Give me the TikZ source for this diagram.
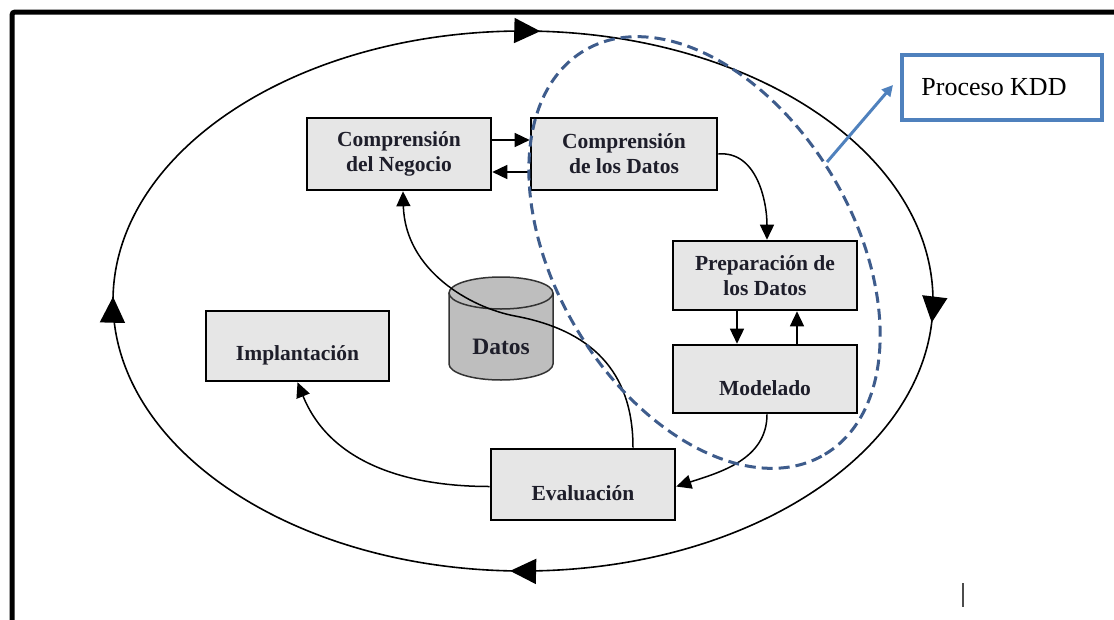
\documentclass[tikz,border=0pt]{standalone}
\usepackage{fontspec}
\setmainfont{Liberation Serif}
\usetikzlibrary{arrows.meta,decorations.markings}

\definecolor{boxfill}{HTML}{E6E6E6}
\definecolor{cylfill}{HTML}{BEBEBE}
\definecolor{ink}{HTML}{1E1E2A}
\definecolor{kddblue}{HTML}{3E5C8C}
\definecolor{callout}{HTML}{4F81BD}

% single-line labels sit a little below the box centre
\newcommand{\lowlabel}[1]{\raisebox{-9pt}[\height][\depth]{#1}}

\begin{document}
\begin{tikzpicture}[x=1pt,y=1pt,
  stage/.style={draw=black, line width=2.6pt, fill=boxfill, text=ink,
    font=\fontsize{21.5}{25}\selectfont\bfseries, align=center, inner sep=0pt},
  link/.style={line width=1.5pt, -{Triangle[length=15pt,width=14pt]}},
  loopline/.style={line width=1.6pt, postaction={decorate}, decoration={markings,
    mark=at position 0.242 with {\arrowreversed{Triangle[length=26pt,width=25pt]}},
    mark=at position 0.498 with {\arrowreversed{Triangle[length=26pt,width=25pt]}},
    mark=at position 0.744 with {\arrowreversed{Triangle[length=26pt,width=25pt]}},
    mark=at position 0.990 with {\arrowreversed{Triangle[length=26pt,width=25pt]}}}},
  kddline/.style={kddblue, line width=3pt, dash pattern=on 11pt off 6pt},
  callout box/.style={draw=callout, line width=4pt, fill=white, text=black,
    font=\fontsize{26}{30}\selectfont, minimum width=200pt, minimum height=65pt, inner sep=0pt}
]
\useasboundingbox (0,0) rectangle (1114,-619);
\fill[white] (0,0) rectangle (1114,-619);

% page frame
\draw[line width=5pt, rounded corners=3pt] (12,-630) -- (12,-12) -- (1125,-12);

% outer cycle
\draw[loopline] (523,-301) ellipse [x radius=410, y radius=270];

% data store
\fill[cylfill] (449,-293) -- (449,-364) arc[start angle=180, end angle=360, x radius=52, y radius=16]
  -- (553,-293) arc[start angle=0, end angle=180, x radius=52, y radius=16] -- cycle;
\draw[line width=1.5pt, black!80] (449,-293) -- (449,-364)
  arc[start angle=180, end angle=360, x radius=52, y radius=16] -- (553,-293);
\draw[line width=1.5pt, black!80] (501,-293) ellipse [x radius=52, y radius=16];
\node[text=ink, font=\fontsize{23.5}{26}\selectfont\bfseries] (datos) at (501,-347) {Datos};

% stages
\node[stage, minimum width=184pt, minimum height=72pt] (neg) at (399,-154) {Comprensión\\del Negocio};
\node[stage, minimum width=186pt, minimum height=72pt] (cdat) at (624,-154) {Comprensión\\de los Datos};
\node[stage, minimum width=184pt, minimum height=69pt] (prep) at (765,-275.5) {Preparación de\\los Datos};
\node[stage, minimum width=184pt, minimum height=68pt] (mod) at (765,-379) {\lowlabel{Modelado}};
\node[stage, minimum width=184pt, minimum height=71pt] (eval) at (583,-484.5) {\lowlabel{Evaluación}};
\node[stage, minimum width=183pt, minimum height=70pt] (impl) at (297.5,-346) {\lowlabel{Implantación}};

% transitions
\draw[link] ([yshift=14pt]neg.east) -- ([yshift=14pt]cdat.west);
\draw[link] ([yshift=-18pt]cdat.west) -- ([yshift=-18pt]neg.east);
\draw[link] (cdat.east) to[out=5, in=90] ([xshift=2pt]prep.north);
\draw[link] ([xshift=-28pt]prep.south) -- ([xshift=-28pt]mod.north);
\draw[link] ([xshift=32pt]mod.north) -- ([xshift=32pt]prep.south);
\draw[link] ([xshift=2pt]mod.south) to[out=-90, in=18] ([yshift=-2pt]eval.east);
\draw[link] ([yshift=-2pt]eval.west) to[out=180, in=-68] (impl.south);
\coordinate (bend) at (515,-316);
\draw[link] ([xshift=50pt]eval.north) .. controls (633,-370) and (590,-330) .. (bend)
  .. controls (470,-307.6) and (405,-270) .. ([xshift=4pt]neg.south);

% KDD region
\draw[kddline, rotate around={-59.2:(704.5,-252.5)}] (704.5,-252.5) ellipse [x radius=235, y radius=149];

\node[callout box] (kdd) at (1002,-87.5) {\hspace*{-16pt}Proceso KDD};
\coordinate (kddfrom) at (827,-162);
\coordinate (kddto) at (893,-85);
\draw[callout, line width=3pt, -{Triangle[length=11pt,width=11pt]}] (kddfrom) -- (kddto);

% text cursor
\draw[line width=1.3pt, black!70] (963,-583) -- (963,-607);
\end{tikzpicture}
\end{document}
